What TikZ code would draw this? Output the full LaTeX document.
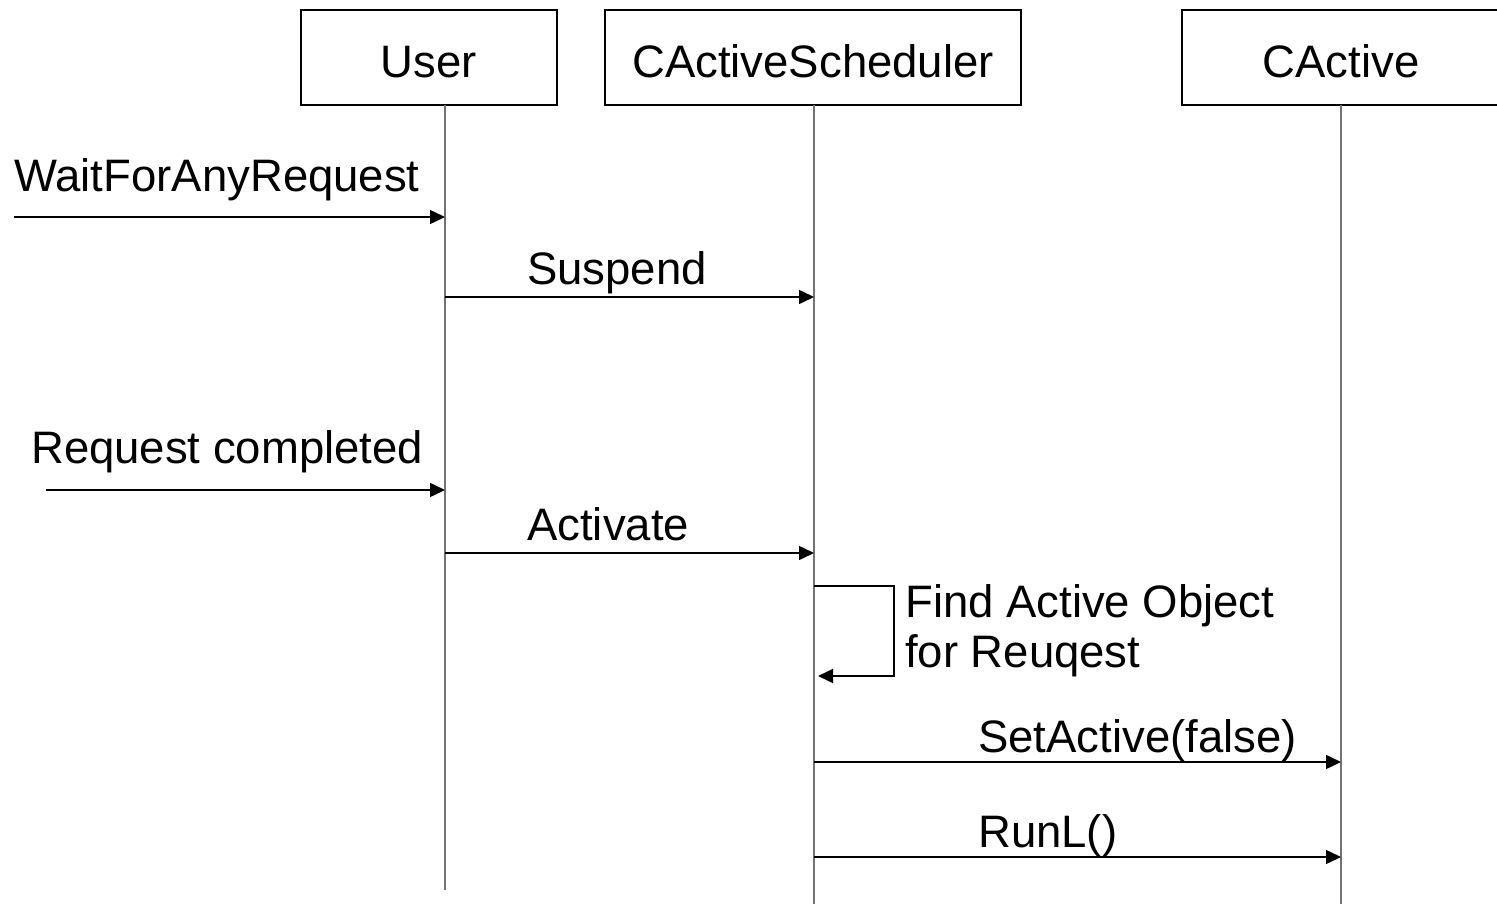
\documentclass[tikz,border=0pt]{standalone}
\usepackage{fontspec}
\setmainfont{Liberation Sans}
\usetikzlibrary{arrows.meta}
\begin{document}
\begin{tikzpicture}[x=1pt,y=-1pt,
  every node/.style={font=\fontsize{45.5}{52}\selectfont, inner sep=0pt},
  actor/.style={draw=black, line width=1.3pt},
  lifeline/.style={draw=black!55, line width=1.5pt},
  msg/.style={draw=black, line width=1.5pt, -{Triangle[length=15pt,width=14pt]}},
  lbl/.style={anchor=base west}]
\useasboundingbox (0,0) rectangle (1497,904);
% participant boxes
\draw[actor] (301,10) rectangle (557,105);
\draw[actor] (605,10) rectangle (1021,105);
\draw[actor] (1182,10) rectangle (1500,105);
\node[anchor=base] (tUser) at (429,78) {User};
\node[anchor=base] (tSched) at (813,78) {CActiveScheduler};
\node[anchor=base] (tAct) at (1341,78) {CActive};
% lifelines
\coordinate (u0) at (445,105);  \coordinate (u1) at (445,890);
\coordinate (s0) at (814,105);  \coordinate (s1) at (814,904);
\coordinate (a0) at (1341,105); \coordinate (a1) at (1341,904);
\draw[lifeline] (u0) -- (u1);
\draw[lifeline] (s0) -- (s1);
\draw[lifeline] (a0) -- (a1);
% messages
\coordinate (w0) at (14,217);  \coordinate (w1) at (445,217);
\draw[msg] (w0) -- (w1);
\node[lbl] (lw) at (14,192) {WaitForAnyRequest};
\coordinate (sp0) at (445,297); \coordinate (sp1) at (814,297);
\draw[msg] (sp0) -- (sp1);
\node[lbl] (ls) at (527,284) {Suspend};
\coordinate (r0) at (46,490);  \coordinate (r1) at (445,490);
\draw[msg] (r0) -- (r1);
\node[lbl] (lr) at (31,463) {Request completed};
\coordinate (ac0) at (445,553); \coordinate (ac1) at (814,553);
\draw[msg] (ac0) -- (ac1);
\node[lbl] (la) at (527,540) {Activate};
% self call
\coordinate (f0) at (814,586); \coordinate (f1) at (818,676);
\draw[msg] (f0) -- (894,586) -- (894,676) -- (f1);
\node[lbl] (lf1) at (905,617) {Find Active Object};
\node[lbl] (lf2) at (905,667) {for Reuqest};
\coordinate (sa0) at (814,762); \coordinate (sa1) at (1341,762);
\draw[msg] (sa0) -- (sa1);
\node[lbl] (lsa) at (978,752) {SetActive(false)};
\coordinate (rl0) at (814,857); \coordinate (rl1) at (1341,857);
\draw[msg] (rl0) -- (rl1);
\node[lbl] (lrl) at (978,847) {RunL()};
\end{tikzpicture}
\end{document}
